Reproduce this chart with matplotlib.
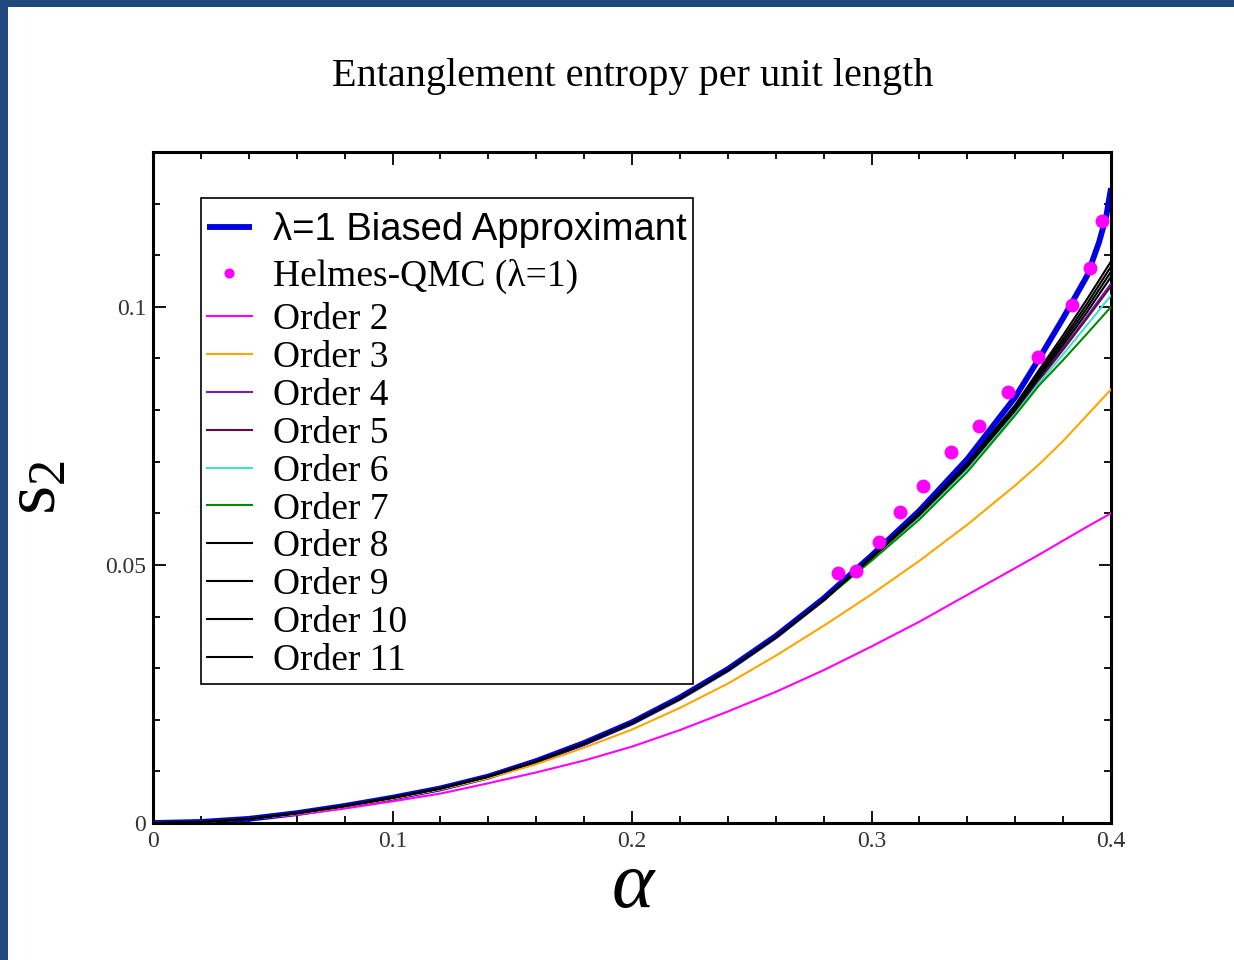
import matplotlib
matplotlib.use('Agg')
import matplotlib.pyplot as plt
from matplotlib.ticker import MultipleLocator, FuncFormatter
from matplotlib.patches import Rectangle
from matplotlib.legend_handler import HandlerLine2D

plt.rcParams['font.family'] = ['Liberation Serif', 'DejaVu Serif']
plt.rcParams['mathtext.fontset'] = 'custom'
plt.rcParams['mathtext.rm'] = 'Liberation Serif'
plt.rcParams['mathtext.it'] = 'Liberation Serif:italic'

# series expansion orders, sampled in alpha
alpha = [0.00, 0.02, 0.04, 0.06, 0.08, 0.10, 0.12, 0.14, 0.16, 0.18, 0.20, 0.22,
         0.24, 0.26, 0.28, 0.30, 0.32, 0.34, 0.36, 0.37, 0.38, 0.39, 0.40]

order2 = [0, 0.0002, 0.0008, 0.0016, 0.0028, 0.0042, 0.0057, 0.0077, 0.0098, 0.0121,
          0.0148, 0.0180, 0.0216, 0.0254, 0.0296, 0.0342, 0.0390, 0.0442, 0.0494,
          0.0520, 0.0547, 0.0574, 0.0600]
order3 = [0, 0.0002, 0.0008, 0.0018, 0.0032, 0.0047, 0.0065, 0.0087, 0.0114, 0.0146,
          0.0181, 0.0223, 0.0270, 0.0324, 0.0382, 0.0443, 0.0508, 0.0578, 0.0654,
          0.0695, 0.0740, 0.0790, 0.0840]

# orders 4..11 coincide up to alpha = 0.28
s2_low = [0, 0.0002, 0.0008, 0.0019, 0.0033, 0.0049, 0.0067, 0.0090, 0.0119, 0.0154,
          0.0194, 0.0241, 0.0296, 0.0360, 0.0432]
order4 = s2_low + [0.0512, 0.0595, 0.0688, 0.0797, 0.0860, 0.0920, 0.0982, 0.1045]
order5 = s2_low + [0.0511, 0.0594, 0.0687, 0.0795, 0.0858, 0.0917, 0.0978, 0.1040]
order6 = s2_low + [0.0510, 0.0591, 0.0684, 0.0793, 0.0853, 0.0908, 0.0965, 0.1022]
order7 = s2_low + [0.0508, 0.0588, 0.0680, 0.0790, 0.0848, 0.0897, 0.0948, 0.1000]
order8 = s2_low + [0.0513, 0.0597, 0.0691, 0.0800, 0.0864, 0.0926, 0.0990, 0.1058]
order9 = s2_low + [0.0514, 0.0598, 0.0693, 0.0803, 0.0868, 0.0932, 0.0998, 0.1068]
order10 = s2_low + [0.0515, 0.0600, 0.0695, 0.0806, 0.0873, 0.0938, 0.1006, 0.1078]
order11 = s2_low + [0.0516, 0.0601, 0.0697, 0.0810, 0.0878, 0.0945, 0.1015, 0.1088]

# biased approximant, lambda = 1
alpha_ba = [0.00, 0.02, 0.04, 0.06, 0.08, 0.10, 0.12, 0.14, 0.16, 0.18, 0.20, 0.22,
            0.24, 0.26, 0.28, 0.30, 0.32, 0.34, 0.36, 0.37, 0.38, 0.39, 0.395, 0.398, 0.40]
s2_ba = [0, 0.0002, 0.0008, 0.0019, 0.0033, 0.0049, 0.0067, 0.0090, 0.0120, 0.0155,
         0.0195, 0.0243, 0.0298, 0.0362, 0.0435, 0.0518, 0.0605, 0.0705, 0.0825,
         0.0900, 0.0978, 0.1060, 0.1125, 0.1175, 0.1230]

# Helmes QMC points
alpha_qmc = [0.286, 0.2935, 0.303, 0.312, 0.3215, 0.333, 0.3447, 0.357, 0.3695,
             0.3837, 0.3912, 0.3962]
s2_qmc = [0.0484, 0.0489, 0.0544, 0.0602, 0.0653, 0.0718, 0.0769, 0.0835, 0.0903,
          0.1003, 0.1076, 0.1167]

orders = [order2, order3, order4, order5, order6, order7, order8, order9, order10, order11]
order_names = ['Order %d' % n for n in range(2, 12)]
order_colors = ['#ff00ff', '#ffa500', '#7221bc', '#670748', '#40e0d0', '#008b00',
                'black', 'black', 'black', 'black']


class PaddedLine(HandlerLine2D):
    """Line handler that leaves extra room above its legend row."""

    def __init__(self, extra, **kw):
        super().__init__(**kw)
        self.extra = extra

    def legend_artist(self, legend, orig_handle, fontsize, handlebox):
        artist = super().legend_artist(legend, orig_handle, fontsize, handlebox)
        handlebox.height += self.extra
        return artist


fig = plt.figure(figsize=(12.34, 9.6), dpi=100)
fig.patch.set_facecolor('white')
# frame strips along top and left
fig.patches.append(Rectangle((0, 1 - 7 / 960), 1, 7 / 960, transform=fig.transFigure,
                             facecolor='#1f497d', edgecolor='none'))
fig.patches.append(Rectangle((0, 0), 8 / 1234, 1, transform=fig.transFigure,
                             facecolor='#1f497d', edgecolor='none'))

ax = fig.add_axes([153 / 1234, 1 - 823 / 960, 958 / 1234, 671 / 960])

h_ba, = ax.plot(alpha_ba, s2_ba, color='#0000e0', lw=4.2, zorder=2,
                solid_capstyle='butt')
h_orders = []
for vals, col in zip(orders, order_colors):
    h, = ax.plot(alpha, vals, color=col, lw=1.5, zorder=3)
    h_orders.append(h)
h_qmc, = ax.plot(alpha_qmc, s2_qmc, 'o', color='#ff00ff', ms=9, mec='#ff00ff', zorder=4)

ax.set_xlim(0, 0.4)
ax.set_ylim(0, 0.13)
ax.xaxis.set_major_locator(MultipleLocator(0.1))
ax.xaxis.set_minor_locator(MultipleLocator(0.02))
ax.yaxis.set_major_locator(MultipleLocator(0.05))
ax.yaxis.set_minor_locator(MultipleLocator(0.01))
fmt = FuncFormatter(lambda v, p: '%g' % round(v, 3))
ax.xaxis.set_major_formatter(fmt)
ax.yaxis.set_major_formatter(fmt)
ax.tick_params(which='both', direction='in', top=True, right=True,
               labelsize=17, labelcolor='#333333', width=1.3)
ax.tick_params(which='major', length=9)
ax.tick_params(which='minor', length=5)
ax.tick_params(axis='x', pad=6)
ax.tick_params(axis='y', pad=5)
for sp in ax.spines.values():
    sp.set_linewidth(2.2)

leg = ax.legend([h_ba, h_qmc] + h_orders,
                ['λ=1 Biased Approximant', 'Helmes-QMC (λ=1)'] + order_names,
                loc='upper left', bbox_to_anchor=(0.05, 0.931), borderaxespad=0,
                fontsize=27, frameon=True, fancybox=False, framealpha=1,
                edgecolor='black', borderpad=0.15, labelspacing=0.09,
                handlelength=1.22, handletextpad=0.56, numpoints=1, markerscale=0.7,
                handler_map={h_ba: PaddedLine(7), h_qmc: PaddedLine(6),
                             h_orders[0]: PaddedLine(4)})
leg.get_frame().set_linewidth(1.2)
txts = leg.get_texts()
txts[0].set_family(['Liberation Sans', 'DejaVu Sans'])
txts[0].set_fontsize(27.5)

fig.text(633 / 1234, 1 - 86 / 960, 'Entanglement entropy per unit length',
         ha='center', va='baseline', fontsize=29)
fig.text(634 / 1234, 1 - 907 / 960, r'$\alpha$', ha='center', va='baseline', fontsize=58)
ax.set_ylabel(r'$\mathrm{s}_2$', fontsize=54)
ax.yaxis.set_label_coords(-0.085, 0.5)

fig.savefig('out.png', dpi=100)
